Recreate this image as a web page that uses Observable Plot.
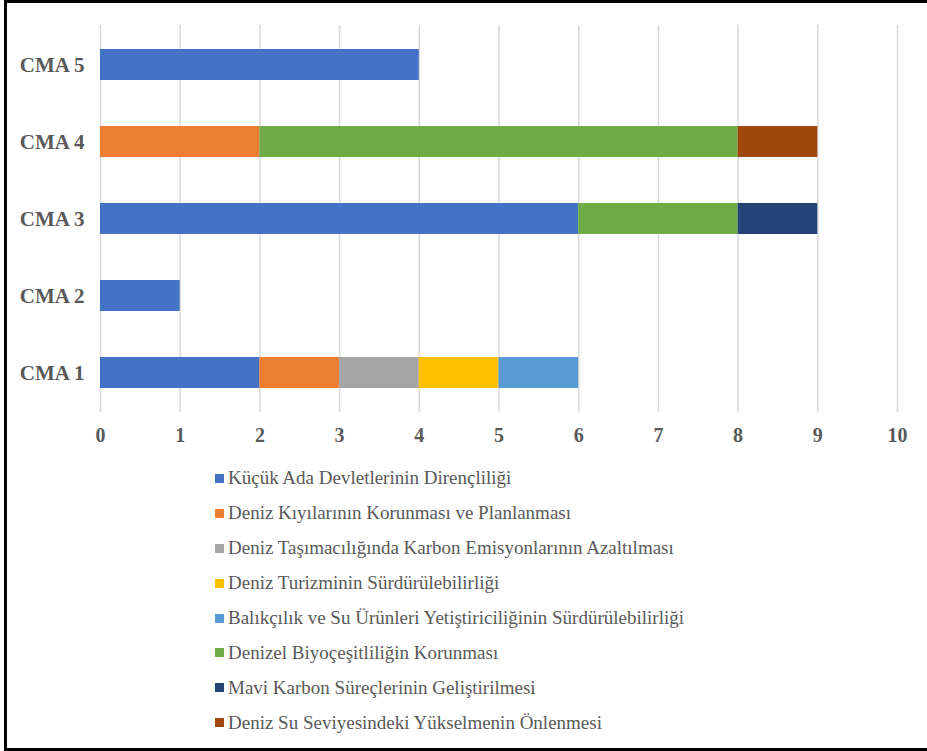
<!DOCTYPE html>
<html><head><meta charset="utf-8">
<script src="https://cdn.jsdelivr.net/npm/d3@7"></script>
<script src="https://cdn.jsdelivr.net/npm/@observablehq/plot@0.6"></script>
<style>
body{margin:0;background:#fff;width:927px;height:751px;overflow:hidden;position:relative;font-family:'Liberation Serif';}
#frame{position:absolute;left:4px;top:0;width:1000px;height:745px;border:3px solid #000;}
#chart{position:absolute;left:0;top:0}
#legend{position:absolute;left:215px;top:461px;font-family:'Liberation Serif';}
.item{height:34.9px;display:flex;align-items:center;font-size:19px;color:#595959;white-space:nowrap;font-family:'Liberation Serif';}
.sw{width:9px;height:9px;margin-right:4px;flex:none}
</style></head>
<body>
<div id="frame"></div>
<div id="chart"></div>
<div id="legend"></div>
<script>
const categories = ["CMA 1", "CMA 2", "CMA 3", "CMA 4", "CMA 5"];
const series = [
  "Küçük Ada Devletlerinin Dirençliliği",
  "Deniz Kıyılarının Korunması ve Planlanması",
  "Deniz Taşımacılığında Karbon Emisyonlarının Azaltılması",
  "Deniz Turizminin Sürdürülebilirliği",
  "Balıkçılık ve Su Ürünleri Yetiştiriciliğinin Sürdürülebilirliği",
  "Denizel Biyoçeşitliliğin Korunması",
  "Mavi Karbon Süreçlerinin Geliştirilmesi",
  "Deniz Su Seviyesindeki Yükselmenin Önlenmesi"
];
const colors = ["#4472C4", "#ED7D31", "#A5A5A5", "#FFC000", "#5B9BD5", "#70AD47", "#264478", "#9E480E"];
// values per series, in order of categories (CMA 1..CMA 5)
const kucukAda = [2, 1, 6, 0, 4];
const denizKiyi = [1, 0, 0, 2, 0];
const tasimacilik = [1, 0, 0, 0, 0];
const turizm = [1, 0, 0, 0, 0];
const balikcilik = [1, 0, 0, 0, 0];
const biyocesitlilik = [0, 0, 2, 6, 0];
const maviKarbon = [0, 0, 1, 0, 0];
const denizSu = [0, 0, 0, 1, 0];
const xTicks = [0, 1, 2, 3, 4, 5, 6, 7, 8, 9, 10];

const seriesValues = [kucukAda, denizKiyi, tasimacilik, turizm, balikcilik, biyocesitlilik, maviKarbon, denizSu];
const data = [];
categories.forEach((c, ci) => {
  series.forEach((s, si) => {
    const v = seriesValues[si][ci];
    if (v > 0) data.push({cma: c, series: s, value: v});
  });
});

const FONT = "Liberation Serif";
const chart = Plot.plot({
  width: 927,
  height: 450,
  marginLeft: 100,
  marginRight: 30,
  marginTop: 25,
  marginBottom: 38,
  style: {fontFamily: FONT, fontWeight: "bold", color: "#595959", background: "transparent"},
  x: {domain: [0, 10], label: null},
  y: {domain: categories.slice().reverse(), paddingInner: 0.6, paddingOuter: 0.3, label: null},
  color: {domain: series, range: colors},
  marks: [
    Plot.gridX(xTicks, {stroke: "#d9d9d9", strokeOpacity: 1, strokeWidth: 1.5}),
    Plot.barX(data, {x: "value", y: "cma", fill: "series", order: series}),
    Plot.axisX(xTicks, {tickSize: 0, tickPadding: 15, fontSize: 20, fontFamily: FONT, fontWeight: "bold", tickFormat: d => String(d)}),
    Plot.axisY({tickSize: 0, tickPadding: 16, fontSize: 21, fontFamily: FONT, fontWeight: "bold"})
  ]
});
document.getElementById("chart").appendChild(chart);

const legend = d3.select("#legend");
series.forEach((s, i) => {
  const it = legend.append("div").attr("class", "item");
  it.append("div").attr("class", "sw").style("background", colors[i]);
  it.append("span").style("font-family", FONT).text(s);
});
</script>
</body></html>
